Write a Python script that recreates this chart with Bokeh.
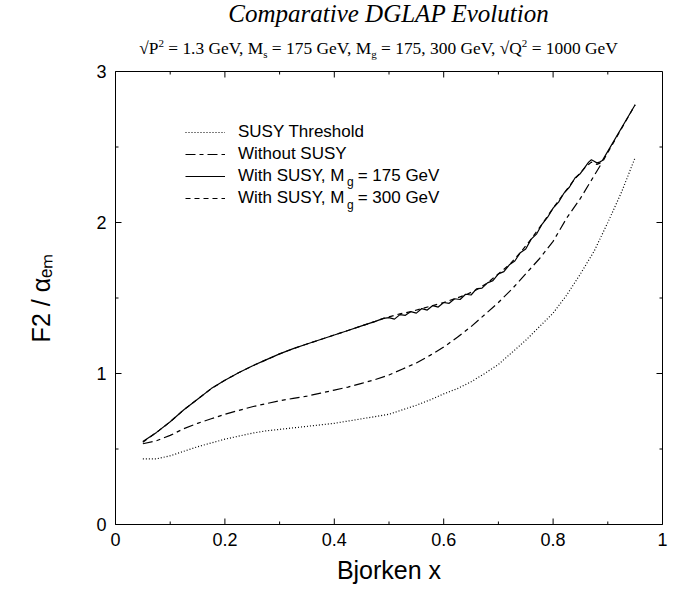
import math
from bokeh.plotting import figure
from bokeh.models import (Div, Legend, LegendItem, Label, FixedTicker,
                          PrintfTickFormatter, Range1d)
from bokeh.layouts import column
from bokeh.embed import file_html
from bokeh.resources import INLINE

# ---------------- data ----------------
x_thr = [0.05, 0.075, 0.10, 0.125, 0.15, 0.175, 0.20, 0.225, 0.25, 0.275, 0.30, 0.325,
         0.35, 0.375, 0.40, 0.425, 0.45, 0.475, 0.50, 0.525, 0.55, 0.575, 0.60, 0.625,
         0.65, 0.675, 0.70, 0.725, 0.75, 0.775, 0.80, 0.825, 0.85, 0.875, 0.90, 0.925, 0.95]
y_thr = [0.435, 0.435, 0.455, 0.485, 0.515, 0.54, 0.565, 0.585, 0.605, 0.62, 0.63, 0.64,
         0.65, 0.66, 0.67, 0.685, 0.70, 0.715, 0.73, 0.76, 0.79, 0.825, 0.865, 0.90,
         0.945, 1.00, 1.06, 1.14, 1.22, 1.31, 1.40, 1.52, 1.66, 1.81, 2.00, 2.20, 2.43]

x_nosusy = [0.05, 0.075, 0.10, 0.125, 0.15, 0.175, 0.20, 0.225, 0.25, 0.275, 0.30, 0.325,
            0.35, 0.375, 0.40, 0.425, 0.45, 0.475, 0.50, 0.525, 0.55, 0.575, 0.60, 0.625,
            0.65, 0.675, 0.70, 0.725, 0.75, 0.775, 0.80, 0.825, 0.85, 0.875, 0.89]
y_nosusy = [0.535, 0.555, 0.59, 0.635, 0.67, 0.70, 0.73, 0.755, 0.78, 0.80, 0.82, 0.835,
            0.85, 0.87, 0.89, 0.91, 0.935, 0.96, 0.99, 1.03, 1.07, 1.12, 1.175, 1.24,
            1.31, 1.39, 1.47, 1.56, 1.66, 1.76, 1.875, 2.03, 2.16, 2.31, 2.40]

x_175 = [0.05, 0.075, 0.10, 0.125, 0.15, 0.175, 0.20, 0.225, 0.25, 0.275, 0.30, 0.325,
         0.35, 0.375, 0.40, 0.425, 0.45, 0.475, 0.49,
         0.50, 0.51, 0.52, 0.53, 0.54, 0.55, 0.56, 0.57, 0.58, 0.59, 0.60, 0.61, 0.62,
         0.63, 0.64, 0.65, 0.66, 0.67, 0.68, 0.69, 0.70, 0.71, 0.72, 0.73, 0.74, 0.75,
         0.76, 0.77, 0.78, 0.79, 0.80, 0.81, 0.82, 0.83, 0.84, 0.85, 0.86,
         0.865, 0.87, 0.875, 0.88, 0.885, 0.89, 0.95]
y_175 = [0.55, 0.61, 0.68, 0.76, 0.83, 0.90, 0.955, 1.005, 1.05, 1.09, 1.13, 1.165,
         1.195, 1.225, 1.255, 1.285, 1.315, 1.345, 1.365,
         1.37, 1.36, 1.39, 1.385, 1.41, 1.40, 1.43, 1.42, 1.45, 1.44, 1.47, 1.465, 1.495,
         1.49, 1.525, 1.52, 1.56, 1.565, 1.60, 1.615, 1.66, 1.675, 1.72, 1.745, 1.80, 1.825,
         1.89, 1.925, 1.99, 2.035, 2.095, 2.135, 2.195, 2.235, 2.295, 2.325, 2.375,
         2.40, 2.415, 2.405, 2.395, 2.40, 2.41, 2.78]

x_300 = [0.05, 0.075, 0.10, 0.125, 0.15, 0.175, 0.20, 0.225, 0.25, 0.275, 0.30, 0.325,
         0.35, 0.375, 0.40, 0.425, 0.45, 0.475, 0.49, 0.50, 0.52, 0.54, 0.56, 0.58,
         0.60, 0.62, 0.64, 0.66, 0.68, 0.70, 0.72, 0.74, 0.76, 0.78, 0.80, 0.82, 0.84,
         0.86, 0.87, 0.88, 0.89, 0.95]
y_300 = [0.545, 0.61, 0.68, 0.76, 0.83, 0.90, 0.955, 1.005, 1.05, 1.09, 1.13, 1.165,
         1.195, 1.225, 1.255, 1.285, 1.315, 1.345, 1.365, 1.375, 1.395, 1.41, 1.43, 1.45,
         1.47, 1.495, 1.52, 1.555, 1.60, 1.66, 1.72, 1.80, 1.89, 1.99, 2.095, 2.195, 2.29,
         2.37, 2.40, 2.385, 2.40, 2.78]

x_lim = (0, 1)
y_lim = (0, 3)
x_ticks = [0, 0.2, 0.4, 0.6, 0.8, 1.0]
x_minor = [0.1, 0.3, 0.5, 0.7, 0.9]
y_ticks = [0, 1, 2, 3]
y_minor = [0.5, 1.5, 2.5]

labels = ["SUSY Threshold", "Without SUSY",
          "With SUSY, M\u2002 = 175 GeV", "With SUSY, M\u2002 = 300 GeV"]

SANS = "Liberation Sans"

# ---------------- title block ----------------
title_html = (
    '<div style="margin-left:115px;width:547px;text-align:center;color:#000;'
    'white-space:nowrap;">'
    '<div style="font-family:\'Liberation Serif\';font-style:italic;font-size:25px;'
    'line-height:28px;">Comparative DGLAP Evolution</div>'
    '<div style="font-family:\'Liberation Serif\';font-size:17.4px;line-height:20px;'
    'margin-top:5px;margin-left:-20px;">'
    '\u221aP<sup style="font-size:11px">2</sup> = 1.3 GeV, M<sub style="font-size:11px">s</sub> = 175 GeV, '
    'M<sub style="font-size:11px">g</sub> = 175, 300 GeV, \u221aQ<sup style="font-size:11px">2</sup> = 1000 GeV'
    '</div></div>'
)
head = Div(text=title_html, width=672, height=59, margin=(0, 0, 0, 0))

# ---------------- figure ----------------
p = figure(width=672, height=529, output_backend="svg", toolbar_location=None,
           x_range=Range1d(*x_lim), y_range=Range1d(*y_lim),
           min_border_left=115, min_border_right=10, min_border_top=12,
           min_border_bottom=64, margin=(0, 0, 0, 0))
p.grid.visible = False
p.outline_line_color = "black"
p.outline_line_width = 1
p.background_fill_color = "white"
p.border_fill_color = "white"

r_thr = p.line(x_thr, y_thr, line_color="black", line_width=1.2, line_dash="1 2")
r_no = p.line(x_nosusy, y_nosusy, line_color="black", line_width=1.2, line_dash="10 4 4 4")
r_175 = p.line(x_175, y_175, line_color="black", line_width=1.2)
r_300 = p.line(x_300, y_300, line_color="black", line_width=1.2, line_dash="5 4")

# inward tick marks on all four sides, placed at the tick values
for ticks, ln in [(x_ticks, 6), (x_minor, 3)]:
    p.ray(x=ticks, y=[y_lim[0]] * len(ticks), length=ln, angle=math.pi / 2,
          length_units="screen", line_color="black", line_width=1)
    p.ray(x=ticks, y=[y_lim[1]] * len(ticks), length=ln, angle=-math.pi / 2,
          length_units="screen", line_color="black", line_width=1)
for ticks, ln in [(y_ticks, 6), (y_minor, 3)]:
    p.ray(x=[x_lim[0]] * len(ticks), y=ticks, length=ln, angle=0,
          length_units="screen", line_color="black", line_width=1)
    p.ray(x=[x_lim[1]] * len(ticks), y=ticks, length=ln, angle=math.pi,
          length_units="screen", line_color="black", line_width=1)

fmt = PrintfTickFormatter(format="%g")
for ax, tk in [(p.xaxis[0], FixedTicker(ticks=x_ticks, minor_ticks=x_minor)),
               (p.yaxis[0], FixedTicker(ticks=y_ticks, minor_ticks=y_minor))]:
    ax.ticker = tk
    ax.formatter = fmt
    ax.axis_line_color = "black"
    ax.major_tick_in = 0
    ax.major_tick_out = 0
    ax.minor_tick_in = 0
    ax.minor_tick_out = 0
    ax.major_label_text_font = SANS
    ax.major_label_text_font_size = "18px"
    ax.major_label_text_color = "black"
    ax.axis_label_text_font = SANS
    ax.axis_label_text_font_size = "25px"
    ax.axis_label_text_font_style = "normal"
    ax.axis_label_text_color = "black"

p.xaxis.axis_label = "Bjorken x"
p.yaxis.axis_label = "F2 / \u03b1\u2091\u2098"
p.xaxis.major_label_standoff = 8
p.xaxis.axis_label_standoff = 7
p.yaxis.major_label_standoff = 9
p.yaxis.axis_label_standoff = 38

legend = Legend(items=[LegendItem(label=labels[0], renderers=[r_thr]),
                       LegendItem(label=labels[1], renderers=[r_no]),
                       LegendItem(label=labels[2], renderers=[r_175]),
                       LegendItem(label=labels[3], renderers=[r_300])],
                location=(70, 316), glyph_width=40, glyph_height=20, label_height=20,
                spacing=2, label_standoff=13, padding=0, margin=0,
                border_line_alpha=0, background_fill_alpha=0,
                label_text_font=SANS, label_text_font_size="17px",
                label_text_color="black")
p.add_layout(legend, "center")

# subscript "g" for the two M_g legend entries
for yy in [2.265, 2.119]:
    p.add_layout(Label(x=0.423, y=yy, text="g", text_font=SANS,
                       text_font_size="12px", text_color="black",
                       text_baseline="alphabetic"))

out = column(head, p, spacing=0)
open("out.html", "w").write(file_html(out, INLINE))
